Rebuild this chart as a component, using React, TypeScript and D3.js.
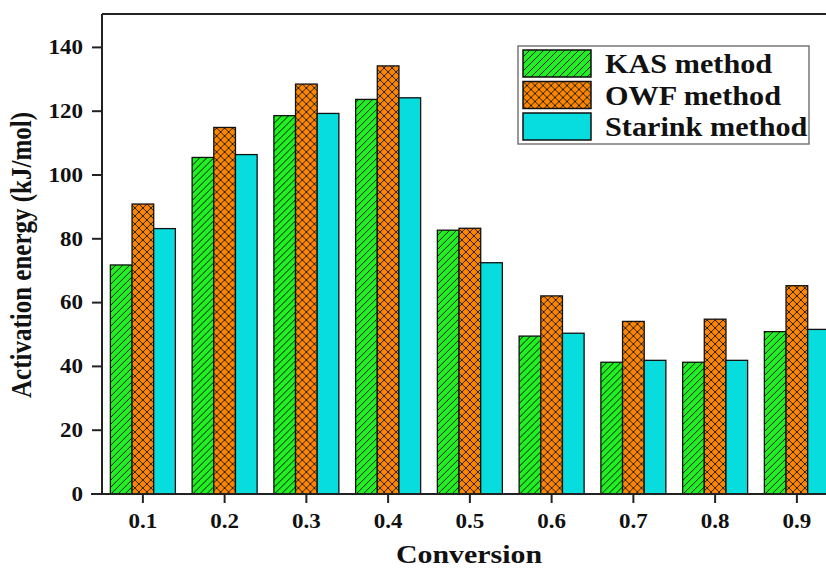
import React from 'react';
import * as d3 from 'd3';

const conversions = [0.1, 0.2, 0.3, 0.4, 0.5, 0.6, 0.7, 0.8, 0.9];
const kas = [71.8, 105.5, 118.6, 123.7, 82.7, 49.5, 41.3, 41.3, 50.9];
const owf = [90.9, 114.9, 128.5, 134.2, 83.3, 62.1, 54.1, 54.8, 65.3];
const starink = [83.2, 106.4, 119.3, 124.2, 72.5, 50.4, 41.9, 41.9, 51.6];
const seriesNames = ['KAS method', 'OWF method', 'Starink method'];
const yTicks = [0, 20, 40, 60, 80, 100, 120, 140];

const W = 826;
const H = 568;
const margin = { left: 102, top: 14, bottom: 74 };
const font = "'Liberation Serif', 'Times New Roman', Times, serif";
const stretch = 1.15;

const fills = ['url(#hatchKas)', 'url(#hatchOwf)', 'url(#hatchSta)'];

const App = () => {
  const series = [kas, owf, starink];
  const plotBottom = H - margin.bottom;

  const y = d3.scaleLinear().domain([0, 150]).range([plotBottom, margin.top + 1.5]);
  // one tenth of conversion spans about 81.75 px
  const x = d3.scaleLinear().domain([0.05, 1.0]).range([margin.left, margin.left + 0.95 * 817.5]);
  const inner = d3.scaleBand().domain(seriesNames).range([-32.5, 32.5]).padding(0);

  return (
    <svg
      width={W}
      height={H}
      style={{ position: 'absolute', left: 0, top: 0, background: '#fff', fontFamily: font, fontWeight: 'bold' }}
    >
      <defs>
        <pattern id="hatchKas" patternUnits="userSpaceOnUse" width="7" height="7">
          <rect width="7" height="7" fill="#1ff01f" />
          <path d="M0,7 L7,0 M-1,1 L1,-1 M6,8 L8,6" stroke="#111" strokeWidth="1" />
        </pattern>
        <pattern id="hatchOwf" patternUnits="userSpaceOnUse" width="8" height="8">
          <rect width="8" height="8" fill="#ff8500" />
          <path d="M0,8 L8,0 M-1,1 L1,-1 M7,9 L9,7 M0,0 L8,8 M-1,7 L1,9 M7,-1 L9,1" stroke="#222" strokeWidth="1" />
        </pattern>
        <pattern id="hatchSta" patternUnits="userSpaceOnUse" width="2" height="2">
          <rect width="2" height="2" fill="#00e2e2" />
          <line x1="0.5" y1="0" x2="0.5" y2="2" stroke="#19cfd4" strokeWidth="0.6" />
        </pattern>
      </defs>

      {/* bars */}
      <g>
        {conversions.map((c, i) => (
          <g key={c} transform={`translate(${x(c)},0)`}>
            {series.map((s, j) => (
              <rect
                key={j}
                x={inner(seriesNames[j])}
                y={y(s[i])}
                width={inner.bandwidth()}
                height={plotBottom - y(s[i])}
                fill={fills[j]}
                stroke="#111"
                strokeWidth={1.3}
              />
            ))}
          </g>
        ))}
      </g>

      {/* frame */}
      <line x1={margin.left} x2={W} y1={margin.top} y2={margin.top} stroke="#222" strokeWidth={2} />
      <line x1={margin.left} x2={margin.left} y1={margin.top} y2={plotBottom} stroke="#222" strokeWidth={2} />
      <line x1={margin.left - 11} x2={W} y1={plotBottom} y2={plotBottom} stroke="#222" strokeWidth={2} />

      {/* y ticks */}
      {yTicks.map(t => (
        <g key={t}>
          <line x1={margin.left - 10} x2={margin.left} y1={y(t)} y2={y(t)} stroke="#222" strokeWidth={2} />
          <text
            transform={`translate(${margin.left - 19},${y(t)}) scale(${stretch},1)`}
            textAnchor="end"
            dy="0.34em"
            fontSize={20}
            fill="#111"
          >
            {t}
          </text>
        </g>
      ))}

      {/* x ticks */}
      {conversions.map(c => (
        <g key={c}>
          <line x1={x(c)} x2={x(c)} y1={plotBottom} y2={plotBottom + 9} stroke="#222" strokeWidth={2} />
          <text
            transform={`translate(${x(c)},${plotBottom + 34}) scale(${stretch},1)`}
            textAnchor="middle"
            fontSize={20}
            fill="#111"
          >
            {c.toFixed(1)}
          </text>
        </g>
      ))}

      {/* axis titles */}
      <text
        transform={`translate(469,563) scale(${stretch},1)`}
        textAnchor="middle"
        fontSize={26}
        fill="#111"
      >
        Conversion
      </text>
      <text
        transform={`translate(31,255) scale(${stretch},1) rotate(-90)`}
        textAnchor="middle"
        fontSize={25}
        fill="#111"
      >
        Activation energy (kJ/mol)
      </text>

      {/* legend */}
      <g transform="translate(518,46)">
        <rect x={0} y={0} width={291} height={98} fill="#fff" stroke="#777" strokeWidth={1.5} />
        {seriesNames.map((name, j) => (
          <g key={name} transform={`translate(5,${4 + j * 31.5})`}>
            <rect x={0} y={0} width={68} height={27} fill={fills[j]} stroke="#111" strokeWidth={1.5} />
            <text
              transform={`translate(82,23) scale(1.12,1)`}
              fontSize={27}
              fill="#111"
            >
              {name}
            </text>
          </g>
        ))}
      </g>
    </svg>
  );
};

export default App;
